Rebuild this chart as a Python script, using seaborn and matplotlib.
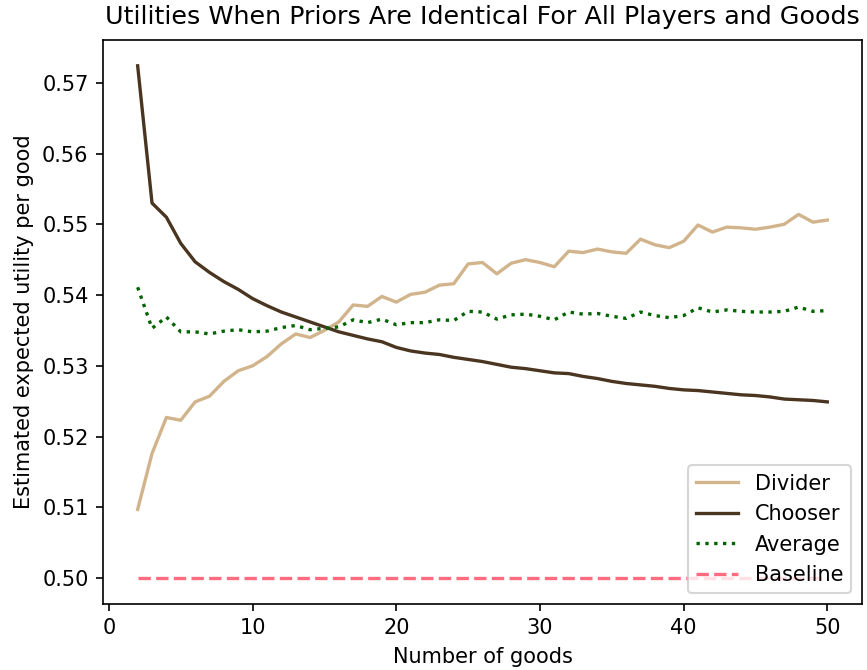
import pandas as pd
import matplotlib
matplotlib.use("Agg")
import matplotlib.pyplot as plt
import seaborn as sns

# Dados
num_goods = list(range(2, 51))

divider = [0.5097, 0.5176, 0.5227, 0.5223, 0.5249, 0.5257, 0.5278, 0.5293, 0.5300,
           0.5313, 0.5331, 0.5345, 0.5340, 0.5350, 0.5362, 0.5386, 0.5384, 0.5398,
           0.5390, 0.5401, 0.5404, 0.5414, 0.5416, 0.5444, 0.5446, 0.5430, 0.5445,
           0.5450, 0.5446, 0.5440, 0.5462, 0.5460, 0.5465, 0.5461, 0.5459, 0.5479,
           0.5471, 0.5467, 0.5476, 0.5499, 0.5489, 0.5496, 0.5495, 0.5493, 0.5496,
           0.5500, 0.5514, 0.5503, 0.5506]

chooser = [0.5724, 0.5530, 0.5510, 0.5473, 0.5447, 0.5432, 0.5419, 0.5408, 0.5395,
           0.5385, 0.5376, 0.5369, 0.5362, 0.5355, 0.5348, 0.5343, 0.5338, 0.5334,
           0.5326, 0.5321, 0.5318, 0.5316, 0.5312, 0.5309, 0.5306, 0.5302, 0.5298,
           0.5296, 0.5293, 0.5290, 0.5289, 0.5285, 0.5282, 0.5278, 0.5275, 0.5273,
           0.5271, 0.5268, 0.5266, 0.5265, 0.5263, 0.5261, 0.5259, 0.5258, 0.5256,
           0.5253, 0.5252, 0.5251, 0.5249]

average = [0.5411, 0.5353, 0.5369, 0.5348, 0.5348, 0.5345, 0.5349, 0.5351, 0.5348,
           0.5349, 0.5354, 0.5357, 0.5351, 0.5353, 0.5355, 0.5365, 0.5361, 0.5366,
           0.5358, 0.5361, 0.5361, 0.5365, 0.5364, 0.5377, 0.5376, 0.5366, 0.5372,
           0.5373, 0.5370, 0.5365, 0.5376, 0.5373, 0.5374, 0.5370, 0.5367, 0.5376,
           0.5371, 0.5368, 0.5371, 0.5382, 0.5376, 0.5379, 0.5377, 0.5376, 0.5376,
           0.5377, 0.5383, 0.5377, 0.5378]

baseline = [0.50] * len(num_goods)

df = pd.DataFrame({
    "goods": num_goods,
    "Divider": divider,
    "Chooser": chooser,
    "Average": average,
    "Baseline": baseline,
})

# --- Gráfico ---
fig, ax = plt.subplots(figsize=(867 / 150, 670 / 150), dpi=150)
fig.subplots_adjust(left=0.119, right=0.994, top=0.94, bottom=0.099)

sns.lineplot(data=df, x="goods", y="Divider", color="#d2b48c", linewidth=1.6, label="Divider", ax=ax)
sns.lineplot(data=df, x="goods", y="Chooser", color="#4a3520", linewidth=1.6, label="Chooser", ax=ax)
sns.lineplot(data=df, x="goods", y="Average", color="darkgreen", linewidth=1.6, linestyle=":", label="Average", ax=ax)
sns.lineplot(data=df, x="goods", y="Baseline", color="#ff6b7f", linewidth=1.6, linestyle="--", label="Baseline", ax=ax)

ax.set_title("Utilities When Priors Are Identical For All Players and Goods", fontsize=12.2, pad=8)
ax.set_xlabel("Number of goods")
ax.set_ylabel("Estimated expected utility per good")
ax.legend(loc="lower right")

fig.savefig("out.png", dpi=150)
